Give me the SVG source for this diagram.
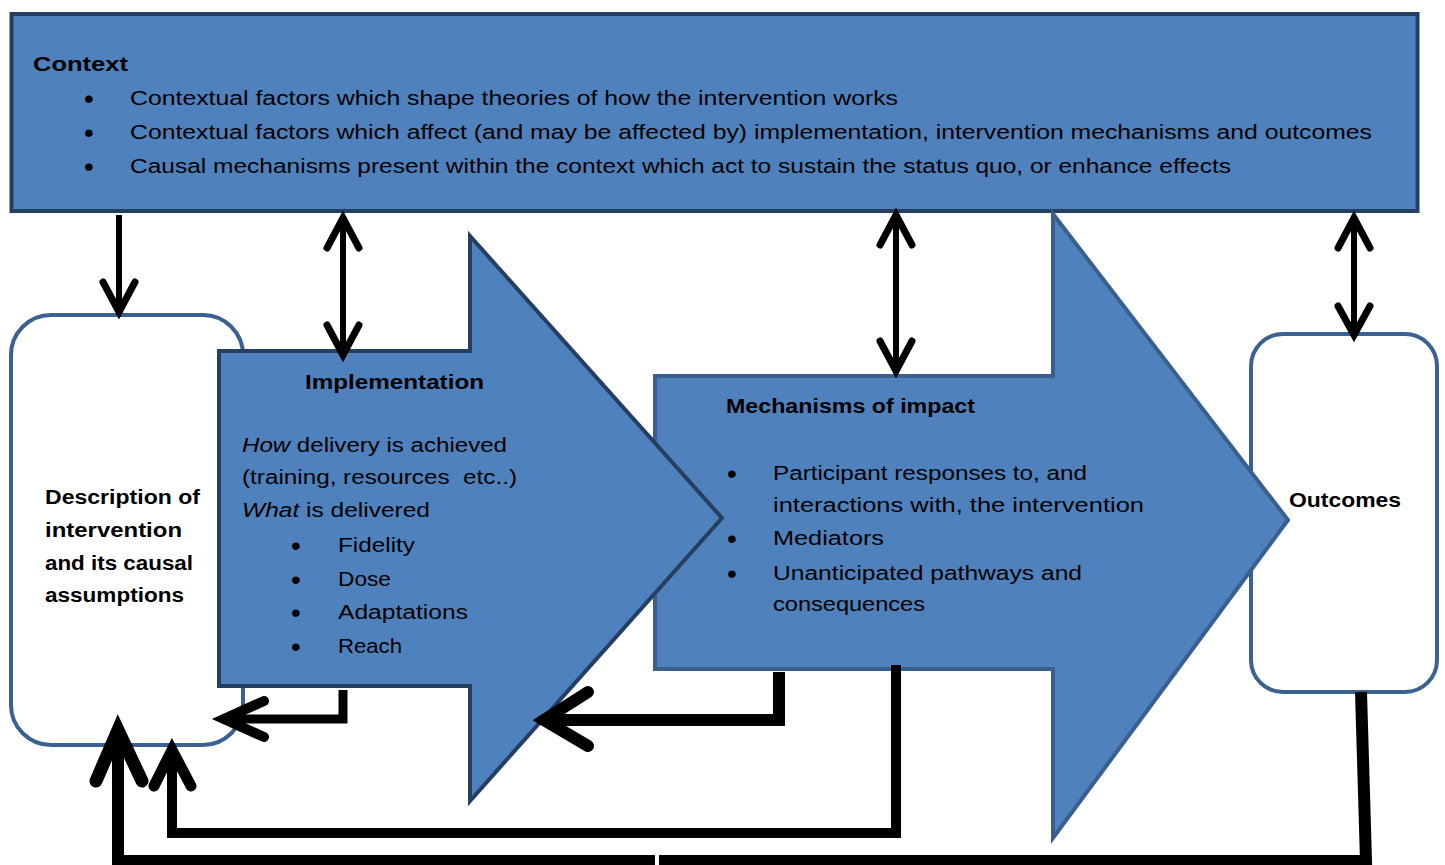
<svg xmlns="http://www.w3.org/2000/svg" width="1445" height="865" viewBox="0 0 1445 865">
<style>
text{font-family:"Liberation Sans",Arial,sans-serif;font-size:20px;fill:#000}
.b{font-weight:bold}
.blt{text-anchor:middle;font-size:28px}
.blue{fill:#4F81BD}
.dk{stroke:#253F62;stroke-width:4}
.md{stroke:#3A5F8C;stroke-width:4}
.box{fill:#fff;stroke:#3B6192;stroke-width:4}
.ln{fill:none;stroke:#000;stroke-linecap:butt;stroke-linejoin:miter}
.hd{fill:none;stroke:#000;stroke-linecap:round;stroke-linejoin:miter;stroke-miterlimit:10}
</style>
<rect width="1445" height="865" fill="#fff"/>
<g id="context">
<rect class="blue dk" x="11.5" y="14" width="1406" height="197"/>
<text class="b" x="33" y="71" textLength="95" lengthAdjust="spacingAndGlyphs">Context</text>
<text class="blt" x="89" y="108">•</text>
<text x="130" y="105" textLength="768" lengthAdjust="spacingAndGlyphs">Contextual factors which shape theories of how the intervention works</text>
<text class="blt" x="89" y="142">•</text>
<text x="130" y="139" textLength="1242" lengthAdjust="spacingAndGlyphs">Contextual factors which affect (and may be affected by) implementation, intervention mechanisms and outcomes</text>
<text class="blt" x="89" y="176">•</text>
<text x="130" y="173" textLength="1101" lengthAdjust="spacingAndGlyphs">Causal mechanisms present within the context which act to sustain the status quo, or enhance effects</text>
</g>
<g id="description">
<rect class="box" x="11" y="315" width="232" height="430" rx="40" ry="40"/>
<text class="b" x="45" y="504" textLength="155" lengthAdjust="spacingAndGlyphs">Description of</text>
<text class="b" x="45" y="537" textLength="137" lengthAdjust="spacingAndGlyphs">intervention</text>
<text class="b" x="45" y="570" textLength="148" lengthAdjust="spacingAndGlyphs">and its causal</text>
<text class="b" x="45" y="602" textLength="139" lengthAdjust="spacingAndGlyphs">assumptions</text>
</g>
<g id="outcomes">
<rect class="box" x="1251" y="334" width="186" height="358" rx="32" ry="32"/>
<text class="b" x="1289" y="507" textLength="112" lengthAdjust="spacingAndGlyphs">Outcomes</text>
</g>
<g id="mechanisms">
<polygon class="blue md" points="655,376 1053,376 1053,214 1288,520 1053,838 1053,669 655,669"/>
<text class="b" x="726" y="413" textLength="249" lengthAdjust="spacingAndGlyphs">Mechanisms of impact</text>
<text class="blt" x="732" y="483">•</text>
<text x="773" y="480" textLength="314" lengthAdjust="spacingAndGlyphs">Participant responses to, and</text>
<text x="773" y="512" textLength="371" lengthAdjust="spacingAndGlyphs">interactions with, the intervention</text>
<text class="blt" x="732" y="548">•</text>
<text x="773" y="545" textLength="111" lengthAdjust="spacingAndGlyphs">Mediators</text>
<text class="blt" x="732" y="583">•</text>
<text x="773" y="580" textLength="309" lengthAdjust="spacingAndGlyphs">Unanticipated pathways and</text>
<text x="773" y="611" textLength="152" lengthAdjust="spacingAndGlyphs">consequences</text>
</g>
<g id="implementation">
<polygon class="blue dk" points="219,351 470,351 470,236 722,518 470,801 470,686 219,686"/>
<text class="b" x="305" y="389" textLength="179" lengthAdjust="spacingAndGlyphs">Implementation</text>
<text x="242" y="452" textLength="265" lengthAdjust="spacingAndGlyphs"><tspan font-style="italic">How</tspan> delivery is achieved</text>
<text x="242" y="484" textLength="275" lengthAdjust="spacingAndGlyphs">(training, resources&#160; etc..)</text>
<text x="242" y="517" textLength="188" lengthAdjust="spacingAndGlyphs"><tspan font-style="italic">What</tspan> is delivered</text>
<text class="blt" x="296" y="555">•</text>
<text x="338" y="552" textLength="77" lengthAdjust="spacingAndGlyphs">Fidelity</text>
<text class="blt" x="296" y="589">•</text>
<text x="338" y="586" textLength="53" lengthAdjust="spacingAndGlyphs">Dose</text>
<text class="blt" x="296" y="622">•</text>
<text x="338" y="619" textLength="130" lengthAdjust="spacingAndGlyphs">Adaptations</text>
<text class="blt" x="296" y="656">•</text>
<text x="338" y="653" textLength="64" lengthAdjust="spacingAndGlyphs">Reach</text>
</g>
<g id="connectors">
<path class="ln" d="M119,215 V309" stroke-width="6"/>
<polyline class="hd" points="103,282 119,312 135,282" stroke-width="7"/>
<path class="ln" d="M343,220 V352" stroke-width="6"/>
<polyline class="hd" points="327,248 343,218 359,248" stroke-width="7"/>
<polyline class="hd" points="327,325 343,355 359,325" stroke-width="7"/>
<path class="ln" d="M896,217 V369" stroke-width="6"/>
<polyline class="hd" points="880,245 896,215 912,245" stroke-width="7"/>
<polyline class="hd" points="880,341 896,371 912,341" stroke-width="7"/>
<path class="ln" d="M1354,220 V332" stroke-width="6"/>
<polyline class="hd" points="1338,248 1354,218 1370,248" stroke-width="7"/>
<polyline class="hd" points="1338,306 1354,335 1370,306" stroke-width="7"/>
<path class="ln" d="M343,690 V719 H226" stroke-width="9"/>
<polyline class="hd" points="264,701 224,719 264,737" stroke-width="10"/>
<path class="ln" d="M779,672 V720 H546" stroke-width="12"/>
<polyline class="hd" points="588,692 544,720 588,746" stroke-width="12"/>
<path class="ln" d="M896,665 V833 H172 V752" stroke-width="10"/>
<polyline class="hd" points="154,786 172,750 191,786" stroke-width="11"/>
<path class="ln" d="M1361,692 L1366,861 H659 M655,861 H118 V734" stroke-width="12"/>
<polyline class="hd" points="96,781 118,730 142,781" stroke-width="13"/>
</g>
</svg>
